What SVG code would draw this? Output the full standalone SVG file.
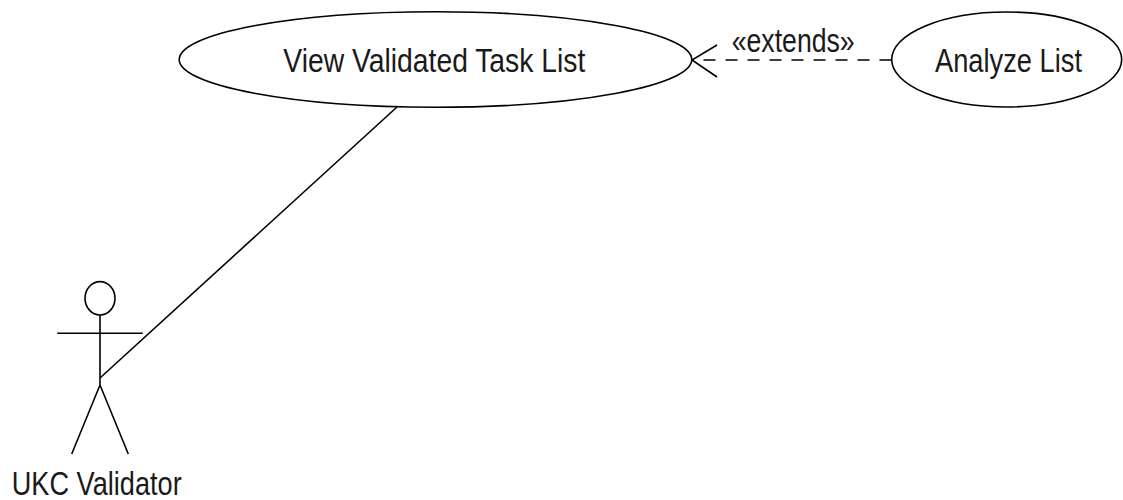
<svg xmlns="http://www.w3.org/2000/svg" width="1123" height="500" viewBox="0 0 1123 500">
<style>
.shape{fill:#fff;stroke:#000;stroke-width:1.6}
.line{fill:none;stroke:#000;stroke-width:1.6}
.dash{fill:none;stroke:#000;stroke-width:1.6;stroke-dasharray:12 10}
.lbl{font-family:"Liberation Sans",Arial,sans-serif;font-size:33px;fill:#1a1a1a}
</style>
<rect width="1123" height="500" fill="#fff"/>
<g id="connectors">
<path class="line" d="M100 378 L397 107"/>
<path class="dash" d="M891.5 60 L692 60"/>
<path class="line" d="M717 45 L692 60 L717 77"/>
<text class="lbl" x="731.7" y="52" textLength="123" lengthAdjust="spacingAndGlyphs">«extends»</text>
</g>
<g id="view-validated-task-list">
<ellipse class="shape" cx="435.5" cy="59.5" rx="256.3" ry="47.8"/>
<text class="lbl" x="283.3" y="72" textLength="302" lengthAdjust="spacingAndGlyphs">View Validated Task List</text>
</g>
<g id="analyze-list">
<ellipse class="shape" cx="1006.7" cy="59.5" rx="115" ry="47.5"/>
<text class="lbl" x="935" y="72" textLength="147" lengthAdjust="spacingAndGlyphs">Analyze List</text>
</g>
<g id="ukc-validator">
<ellipse class="shape" cx="100" cy="298.3" rx="15" ry="16.7"/>
<path class="line" d="M100 315 L100 385 M57.3 333.3 L142.7 333.3 M71.7 454 L100 385 L128.3 454"/>
<text class="lbl" x="11.7" y="495" textLength="170" lengthAdjust="spacingAndGlyphs">UKC Validator</text>
</g>
</svg>
